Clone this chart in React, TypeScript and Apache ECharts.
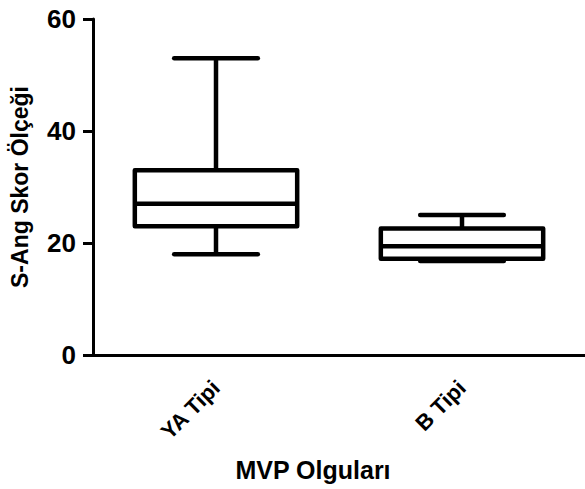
import React, { useEffect, useRef } from "react";
import * as echarts from "echarts";

const categories = ["YA Tipi", "B Tipi"];
// [min, Q1, median, Q3, max]
const boxValues = [
  [18, 23, 27, 33, 53],
  [16.8, 17.2, 19.4, 22.6, 25],
];
const yTicks = { min: 0, max: 60, interval: 20 };
const yName = "S-Ang Skor Ölçeği";
const xName = "MVP Olguları";

const FONT = "'Liberation Sans', Arial, sans-serif";

export default function App() {
  const ref = useRef<HTMLDivElement>(null);
  useEffect(() => {
    if (!ref.current) return;
    const chart = echarts.init(ref.current, null, { renderer: "svg" });
    const data = boxValues.map((v, i) => [i, ...v]);
    chart.setOption({
      animation: false,
      backgroundColor: "#ffffff",
      grid: { left: 88, top: 19, height: 336, width: 504 },
      xAxis: {
        type: "category",
        data: categories,
        boundaryGap: true,
        axisLine: { lineStyle: { color: "#000", width: 3 } },
        axisTick: { alignWithLabel: true, length: 10, lineStyle: { color: "#000", width: 3 } },
        axisLabel: {
          rotate: 45,
          margin: 29,
          color: "#000",
          fontFamily: FONT,
          fontWeight: "bold",
          fontSize: 22,
        },
        splitLine: { show: false },
      },
      yAxis: {
        type: "value",
        min: yTicks.min,
        max: yTicks.max,
        interval: yTicks.interval,
        name: yName,
        nameLocation: "middle",
        nameGap: 62,
        nameTextStyle: { color: "#000", fontFamily: FONT, fontWeight: "bold", fontSize: 23 },
        axisLine: { show: true, lineStyle: { color: "#000", width: 3 } },
        axisTick: { show: true, length: 10, lineStyle: { color: "#000", width: 3 } },
        axisLabel: {
          margin: 17,
          color: "#000",
          fontFamily: FONT,
          fontWeight: "bold",
          fontSize: 26,
        },
        splitLine: { show: false },
      },
      graphic: [
        {
          type: "text",
          x: 313,
          y: 470,
          style: {
            text: xName,
            align: "center",
            verticalAlign: "middle",
            fill: "#000",
            font: `bold 25px ${FONT}`,
          },
        },
      ],
      series: [
        {
          type: "custom",
          data,
          encode: { x: 0, y: [1, 2, 3, 4, 5] },
          renderItem: (params: any, api: any) => {
            const idx = api.value(0);
            const vals = [1, 2, 3, 4, 5].map((k) => api.value(k));
            const band = api.size([1, 0])[0];
            const bw = band * 0.66;
            const cw = band * 0.34;
            const pts = vals.map((v) => api.coord([idx, v]));
            const cx = pts[0][0];
            const [pMin, pQ1, pMed, pQ3, pMax] = pts.map((p) => p[1]);
            const st = { stroke: "#000", lineWidth: 4.5, fill: "none" };
            const stRound = { ...st, lineCap: "round" };
            return {
              type: "group",
              children: [
                { type: "line", shape: { x1: cx, y1: pQ3, x2: cx, y2: pMax }, style: st },
                { type: "line", shape: { x1: cx, y1: pQ1, x2: cx, y2: pMin }, style: st },
                { type: "line", shape: { x1: cx - cw / 2, y1: pMax, x2: cx + cw / 2, y2: pMax }, style: stRound },
                { type: "line", shape: { x1: cx - cw / 2, y1: pMin, x2: cx + cw / 2, y2: pMin }, style: stRound },
                {
                  type: "rect",
                  shape: { x: cx - bw / 2, y: pQ3, width: bw, height: pQ1 - pQ3 },
                  style: { stroke: "#000", lineWidth: 4.5, fill: "#fff", lineJoin: "round" },
                },
                { type: "line", shape: { x1: cx - bw / 2, y1: pMed, x2: cx + bw / 2, y2: pMed }, style: st },
              ],
            };
          },
        },
      ],
    });
    return () => chart.dispose();
  }, []);
  return (
    <div
      ref={ref}
      style={{ position: "fixed", left: 0, top: 0, width: 585, height: 489, background: "#fff" }}
    />
  );
}
